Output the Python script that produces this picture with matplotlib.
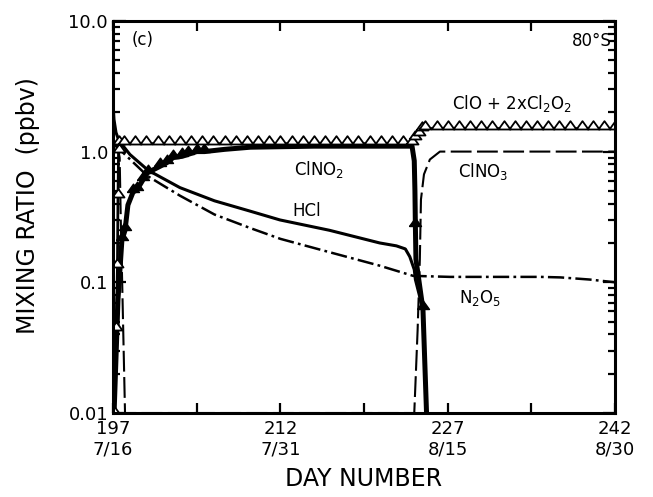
import numpy as np
import matplotlib
matplotlib.use("Agg")
import matplotlib.pyplot as plt
from matplotlib.ticker import FixedLocator, NullFormatter, LogLocator

plt.rcParams['font.family'] = ['DejaVu Sans']
plt.rcParams['mathtext.default'] = 'regular'

# ClO + 2 x Cl2O2 (open triangles)
clo_day = [197.0, 197.3, 197.4, 197.45, 197.5, 197.55,
           198, 199, 200, 201, 202, 203, 204, 205, 206, 207, 208, 209, 210,
           211, 212, 213, 214, 215, 216, 217, 218, 219, 220, 221, 222, 223,
           223.8, 224.1, 224.4, 224.7, 225.0,
           226, 227, 228, 229, 230, 231, 232, 233, 234, 235, 236, 237, 238,
           239, 240, 241, 242]
clo_val = [0.01, 0.043, 0.13, 0.45, 1.0, 1.15,
           1.15, 1.15, 1.15, 1.15, 1.15, 1.15, 1.15, 1.15, 1.15, 1.15, 1.15,
           1.15, 1.15, 1.15, 1.15, 1.15, 1.15, 1.15, 1.15, 1.15, 1.15, 1.15,
           1.15, 1.15, 1.15, 1.15,
           1.15, 1.25, 1.35, 1.45, 1.5,
           1.5, 1.5, 1.5, 1.5, 1.5, 1.5, 1.5, 1.5, 1.5, 1.5, 1.5, 1.5, 1.5,
           1.5, 1.5, 1.5, 1.5]

# ClNO2 (thick line, filled triangles)
clno2_day = [197.1, 197.45, 197.8, 198.08, 198.34, 198.8, 199.15, 199.7,
             200.1, 201.2, 201.8, 202.4, 203.2, 203.7, 204.5, 205.2, 207.0,
             209.3, 215.0, 223.8, 224.0, 224.06, 224.1, 224.15, 224.78, 225.1]
clno2_val = [0.01, 0.074, 0.21, 0.25, 0.39, 0.49, 0.51, 0.61,
             0.69, 0.77, 0.82, 0.90, 0.92, 0.95, 1.0, 1.0, 1.04,
             1.08, 1.1, 1.1, 0.85, 0.5, 0.27, 0.15, 0.062, 0.01]
clno2_marks = [2, 3, 5, 6, 7, 8, 9, 10, 11, 12, 13, 14, 15, 22, 24]

# HCl
hcl_day = [197.0, 197.09, 197.27, 197.54, 198.52, 200.14, 203.0, 206.1,
           209.3, 211.96, 216.4, 220.9, 222.4, 223.2, 223.6, 224.0, 224.1,
           224.78, 225.1]
hcl_val = [2.37, 1.76, 1.40, 1.21, 0.95, 0.72, 0.53, 0.42,
           0.35, 0.30, 0.25, 0.20, 0.19, 0.18, 0.157, 0.125, 0.105,
           0.062, 0.01]

# ClNO3 (dashed)
clno3_day = [197.0, 197.4, 197.6, 197.7, 197.85, 198.08,
             224.0, 224.3, 224.5, 224.6, 224.87, 225.4, 226.3, 242.0]
clno3_val = [1.15, 1.1, 0.9, 0.3, 0.08, 0.01,
             0.01, 0.043, 0.15, 0.43, 0.67, 0.87, 1.0, 1.0]

# N2O5 (dash-dot)
n2o5_day = [197.0, 197.8, 200.1, 203.0, 206.1, 209.3, 212.0, 216.4, 220.9,
            223.9, 227.2, 231.7, 235.3, 237.1, 239.7, 242.0]
n2o5_val = [1.15, 1.0, 0.65, 0.46, 0.33, 0.26, 0.215, 0.17, 0.134,
            0.112, 0.11, 0.11, 0.11, 0.109, 0.105, 0.100]

xticks = [197, 212, 227, 242]
xticklabels = ['197\n7/16', '212\n7/31', '227\n8/15', '242\n8/30']
yticks = [0.01, 0.1, 1.0, 10.0]
yticklabels = ['0.01', '0.1', '1.0', '10.0']

# triangle sitting on the data point
tri = [(-0.72, 0.0), (0.72, 0.0), (0.0, 1.0), (-0.72, 0.0)]

fig = plt.figure(figsize=(6.53, 4.97), dpi=100)
ax = fig.add_axes([0.173, 0.169, 0.769, 0.789])

ax.plot(clno3_day, clno3_val, color='black', lw=1.5, dashes=(10, 2.6))
ax.plot(n2o5_day, n2o5_val, color='black', lw=1.8, dashes=(6.5, 1.7, 1.1, 1.7))
ax.plot(hcl_day, hcl_val, color='black', lw=2.2)
ax.plot(clno2_day, clno2_val, color='black', lw=3.6, marker=tri, ms=12,
        markevery=clno2_marks, mfc='black', mec='black')
ax.plot(clo_day, clo_val, color='black', lw=2.0, marker=tri, ms=12,
        mfc='white', mec='black', mew=1.3)

ax.set_yscale('log')
ax.set_xlim(197, 242)
ax.set_ylim(0.01, 10)

ax.set_xticks(xticks)
ax.set_xticklabels(xticklabels, fontsize=13)
ax.xaxis.set_minor_locator(FixedLocator([204.5, 219.5, 234.5]))
ax.set_yticks(yticks)
ax.set_yticklabels(yticklabels, fontsize=13)
ax.yaxis.set_minor_locator(LogLocator(base=10, subs=np.arange(2, 10)))
ax.yaxis.set_minor_formatter(NullFormatter())

ax.tick_params(which='both', direction='in', top=True, right=True, width=1.6)
ax.tick_params(axis='x', which='both', length=7, pad=5)
ax.tick_params(axis='y', which='major', length=9)
ax.tick_params(axis='y', which='minor', length=5)
for s in ax.spines.values():
    s.set_linewidth(2.2)

ax.set_xlabel('DAY NUMBER', fontsize=17, labelpad=6)
ax.set_ylabel('MIXING RATIO  (ppbv)', fontsize=17)
ax.yaxis.set_label_coords(-0.145, 0.53)

ax.text(199.7, 7.2, '(c)', fontsize=12, ha='center', va='center')
ax.text(241.7, 7.0, '80°S', fontsize=12, ha='right', va='center')
ax.text(232.8, 2.33, 'ClO + 2xCl$_2$O$_2$', fontsize=12, ha='center', va='center')
ax.text(230.2, 0.70, 'ClNO$_3$', fontsize=12, ha='center', va='center')
ax.text(215.5, 0.73, 'ClNO$_2$', fontsize=12, ha='center', va='center')
ax.text(214.4, 0.35, 'HCl', fontsize=12, ha='center', va='center')
ax.text(229.9, 0.076, 'N$_2$O$_5$', fontsize=12, ha='center', va='center')

fig.savefig('out.png', dpi=100)
